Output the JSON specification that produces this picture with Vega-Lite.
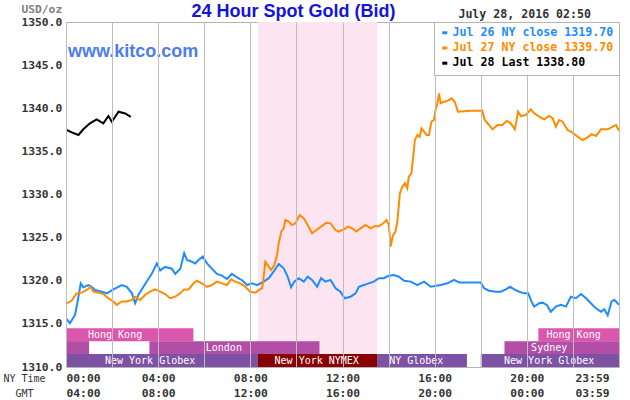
{
  "$schema": "https://vega.github.io/schema/vega-lite/v6.json",
  "width": 553,
  "height": 345,
  "autosize": {"type": "none"},
  "padding": {"left": 66, "top": 22, "right": 11, "bottom": 33},
  "background": "white",
  "config": {"view": {"stroke": "#b4b4b4"}},
  "datasets": {
    "sessions": [
      {"market": "Hong Kong", "start": 0, "end": 5.53, "lane": 2, "laneTop": 3, "laneMid": 2.5, "label": "Hong Kong", "labelAt": 2.13},
      {"market": "Hong Kong", "start": 20.5, "end": 24, "lane": 2, "laneTop": 3, "laneMid": 2.5, "label": "Hong Kong", "labelAt": 22.03},
      {"market": "London", "start": 0, "end": 1.0, "lane": 1, "laneTop": 2, "laneMid": 1.5, "label": "", "labelAt": 0.5},
      {"market": "London", "start": 3.62, "end": 11.0, "lane": 1, "laneTop": 2, "laneMid": 1.5, "label": "London", "labelAt": 6.85},
      {"market": "London", "start": 19.03, "end": 24, "lane": 1, "laneTop": 2, "laneMid": 1.5, "label": "Sydney", "labelAt": 20.97},
      {"market": "Globex", "start": 0, "end": 8.33, "lane": 0, "laneTop": 1, "laneMid": 0.5, "label": "New York Globex", "labelAt": 3.65},
      {"market": "NYMEX", "start": 8.33, "end": 13.5, "lane": 0, "laneTop": 1, "laneMid": 0.5, "label": "New York NYMEX", "labelAt": 10.88},
      {"market": "Globex", "start": 13.5, "end": 17.4, "lane": 0, "laneTop": 1, "laneMid": 0.5, "label": "NY Globex", "labelAt": 15.2},
      {"market": "Globex", "start": 18.0, "end": 24, "lane": 0, "laneTop": 1, "laneMid": 0.5, "label": "New York Globex", "labelAt": 20.97}
    ],
    "prices": [
      {"s": "Jul 26 NY close 1319.70", "h": 0.03, "v": 1315.57},
      {"s": "Jul 26 NY close 1319.70", "h": 0.17, "v": 1315.07},
      {"s": "Jul 26 NY close 1319.70", "h": 0.39, "v": 1316.03},
      {"s": "Jul 26 NY close 1319.70", "h": 0.49, "v": 1317.39},
      {"s": "Jul 26 NY close 1319.70", "h": 0.64, "v": 1319.7},
      {"s": "Jul 26 NY close 1319.70", "h": 0.75, "v": 1319.24},
      {"s": "Jul 26 NY close 1319.70", "h": 0.97, "v": 1319.5},
      {"s": "Jul 26 NY close 1319.70", "h": 1.12, "v": 1319.3},
      {"s": "Jul 26 NY close 1319.70", "h": 1.26, "v": 1318.93},
      {"s": "Jul 26 NY close 1319.70", "h": 1.55, "v": 1318.73},
      {"s": "Jul 26 NY close 1319.70", "h": 1.77, "v": 1318.54},
      {"s": "Jul 26 NY close 1319.70", "h": 2.06, "v": 1319.0},
      {"s": "Jul 26 NY close 1319.70", "h": 2.42, "v": 1319.5},
      {"s": "Jul 26 NY close 1319.70", "h": 2.64, "v": 1319.3},
      {"s": "Jul 26 NY close 1319.70", "h": 2.86, "v": 1318.54},
      {"s": "Jul 26 NY close 1319.70", "h": 3.0, "v": 1317.39},
      {"s": "Jul 26 NY close 1319.70", "h": 3.14, "v": 1318.35},
      {"s": "Jul 26 NY close 1319.70", "h": 3.36, "v": 1319.3},
      {"s": "Jul 26 NY close 1319.70", "h": 3.54, "v": 1320.06},
      {"s": "Jul 26 NY close 1319.70", "h": 3.72, "v": 1320.8},
      {"s": "Jul 26 NY close 1319.70", "h": 3.94, "v": 1322.0},
      {"s": "Jul 26 NY close 1319.70", "h": 4.09, "v": 1321.2},
      {"s": "Jul 26 NY close 1319.70", "h": 4.3, "v": 1321.6},
      {"s": "Jul 26 NY close 1319.70", "h": 4.59, "v": 1321.4},
      {"s": "Jul 26 NY close 1319.70", "h": 4.74, "v": 1320.8},
      {"s": "Jul 26 NY close 1319.70", "h": 4.96, "v": 1321.4},
      {"s": "Jul 26 NY close 1319.70", "h": 5.13, "v": 1323.2},
      {"s": "Jul 26 NY close 1319.70", "h": 5.25, "v": 1322.4},
      {"s": "Jul 26 NY close 1319.70", "h": 5.47, "v": 1322.2},
      {"s": "Jul 26 NY close 1319.70", "h": 5.61, "v": 1322.0},
      {"s": "Jul 26 NY close 1319.70", "h": 5.75, "v": 1322.4},
      {"s": "Jul 26 NY close 1319.70", "h": 5.94, "v": 1322.8},
      {"s": "Jul 26 NY close 1319.70", "h": 6.12, "v": 1322.0},
      {"s": "Jul 26 NY close 1319.70", "h": 6.33, "v": 1321.4},
      {"s": "Jul 26 NY close 1319.70", "h": 6.55, "v": 1320.8},
      {"s": "Jul 26 NY close 1319.70", "h": 6.77, "v": 1320.6},
      {"s": "Jul 26 NY close 1319.70", "h": 6.99, "v": 1320.2},
      {"s": "Jul 26 NY close 1319.70", "h": 7.2, "v": 1320.8},
      {"s": "Jul 26 NY close 1319.70", "h": 7.42, "v": 1320.4},
      {"s": "Jul 26 NY close 1319.70", "h": 7.64, "v": 1320.06},
      {"s": "Jul 26 NY close 1319.70", "h": 7.86, "v": 1319.5},
      {"s": "Jul 26 NY close 1319.70", "h": 8.07, "v": 1319.7},
      {"s": "Jul 26 NY close 1319.70", "h": 8.29, "v": 1319.5},
      {"s": "Jul 26 NY close 1319.70", "h": 8.58, "v": 1319.9},
      {"s": "Jul 26 NY close 1319.70", "h": 8.8, "v": 1320.3},
      {"s": "Jul 26 NY close 1319.70", "h": 9.01, "v": 1321.05},
      {"s": "Jul 26 NY close 1319.70", "h": 9.23, "v": 1321.94},
      {"s": "Jul 26 NY close 1319.70", "h": 9.45, "v": 1321.44},
      {"s": "Jul 26 NY close 1319.70", "h": 9.62, "v": 1320.47},
      {"s": "Jul 26 NY close 1319.70", "h": 9.77, "v": 1319.24},
      {"s": "Jul 26 NY close 1319.70", "h": 9.91, "v": 1319.9},
      {"s": "Jul 26 NY close 1319.70", "h": 10.1, "v": 1320.3},
      {"s": "Jul 26 NY close 1319.70", "h": 10.32, "v": 1319.9},
      {"s": "Jul 26 NY close 1319.70", "h": 10.49, "v": 1320.47},
      {"s": "Jul 26 NY close 1319.70", "h": 10.68, "v": 1320.1},
      {"s": "Jul 26 NY close 1319.70", "h": 10.9, "v": 1319.3},
      {"s": "Jul 26 NY close 1319.70", "h": 11.07, "v": 1320.3},
      {"s": "Jul 26 NY close 1319.70", "h": 11.26, "v": 1319.9},
      {"s": "Jul 26 NY close 1319.70", "h": 11.48, "v": 1320.1},
      {"s": "Jul 26 NY close 1319.70", "h": 11.7, "v": 1319.13},
      {"s": "Jul 26 NY close 1319.70", "h": 11.91, "v": 1318.73},
      {"s": "Jul 26 NY close 1319.70", "h": 12.09, "v": 1317.97},
      {"s": "Jul 26 NY close 1319.70", "h": 12.35, "v": 1318.15},
      {"s": "Jul 26 NY close 1319.70", "h": 12.57, "v": 1318.54},
      {"s": "Jul 26 NY close 1319.70", "h": 12.71, "v": 1319.3},
      {"s": "Jul 26 NY close 1319.70", "h": 12.93, "v": 1319.5},
      {"s": "Jul 26 NY close 1319.70", "h": 13.14, "v": 1319.7},
      {"s": "Jul 26 NY close 1319.70", "h": 13.36, "v": 1319.9},
      {"s": "Jul 26 NY close 1319.70", "h": 13.58, "v": 1320.3},
      {"s": "Jul 26 NY close 1319.70", "h": 13.8, "v": 1320.3},
      {"s": "Jul 26 NY close 1319.70", "h": 13.97, "v": 1320.55},
      {"s": "Jul 26 NY close 1319.70", "h": 14.23, "v": 1320.67},
      {"s": "Jul 26 NY close 1319.70", "h": 14.45, "v": 1320.47},
      {"s": "Jul 26 NY close 1319.70", "h": 14.67, "v": 1320.0},
      {"s": "Jul 26 NY close 1319.70", "h": 14.96, "v": 1319.9},
      {"s": "Jul 26 NY close 1319.70", "h": 15.25, "v": 1319.5},
      {"s": "Jul 26 NY close 1319.70", "h": 15.54, "v": 1319.9},
      {"s": "Jul 26 NY close 1319.70", "h": 15.83, "v": 1319.3},
      {"s": "Jul 26 NY close 1319.70", "h": 16.26, "v": 1319.5},
      {"s": "Jul 26 NY close 1319.70", "h": 16.55, "v": 1319.7},
      {"s": "Jul 26 NY close 1319.70", "h": 16.84, "v": 1320.1},
      {"s": "Jul 26 NY close 1319.70", "h": 17.06, "v": 1319.8},
      {"s": "Jul 26 NY close 1319.70", "h": 18.0, "v": 1319.8},
      {"s": "Jul 26 NY close 1319.70", "h": 18.14, "v": 1319.13},
      {"s": "Jul 26 NY close 1319.70", "h": 18.36, "v": 1318.85},
      {"s": "Jul 26 NY close 1319.70", "h": 18.65, "v": 1318.73},
      {"s": "Jul 26 NY close 1319.70", "h": 18.87, "v": 1318.73},
      {"s": "Jul 26 NY close 1319.70", "h": 19.09, "v": 1319.0},
      {"s": "Jul 26 NY close 1319.70", "h": 19.27, "v": 1319.3},
      {"s": "Jul 26 NY close 1319.70", "h": 19.45, "v": 1319.0},
      {"s": "Jul 26 NY close 1319.70", "h": 19.67, "v": 1318.73},
      {"s": "Jul 26 NY close 1319.70", "h": 19.88, "v": 1318.54},
      {"s": "Jul 26 NY close 1319.70", "h": 20.06, "v": 1318.54},
      {"s": "Jul 26 NY close 1319.70", "h": 20.2, "v": 1317.6},
      {"s": "Jul 26 NY close 1319.70", "h": 20.32, "v": 1317.0},
      {"s": "Jul 26 NY close 1319.70", "h": 20.54, "v": 1317.39},
      {"s": "Jul 26 NY close 1319.70", "h": 20.68, "v": 1317.46},
      {"s": "Jul 26 NY close 1319.70", "h": 20.87, "v": 1317.2},
      {"s": "Jul 26 NY close 1319.70", "h": 21.04, "v": 1316.4},
      {"s": "Jul 26 NY close 1319.70", "h": 21.26, "v": 1317.0},
      {"s": "Jul 26 NY close 1319.70", "h": 21.48, "v": 1317.2},
      {"s": "Jul 26 NY close 1319.70", "h": 21.7, "v": 1317.0},
      {"s": "Jul 26 NY close 1319.70", "h": 21.91, "v": 1318.15},
      {"s": "Jul 26 NY close 1319.70", "h": 22.13, "v": 1317.97},
      {"s": "Jul 26 NY close 1319.70", "h": 22.35, "v": 1318.46},
      {"s": "Jul 26 NY close 1319.70", "h": 22.57, "v": 1317.97},
      {"s": "Jul 26 NY close 1319.70", "h": 22.78, "v": 1317.39},
      {"s": "Jul 26 NY close 1319.70", "h": 23.0, "v": 1316.8},
      {"s": "Jul 26 NY close 1319.70", "h": 23.22, "v": 1316.4},
      {"s": "Jul 26 NY close 1319.70", "h": 23.36, "v": 1316.7},
      {"s": "Jul 26 NY close 1319.70", "h": 23.51, "v": 1316.0},
      {"s": "Jul 26 NY close 1319.70", "h": 23.68, "v": 1317.6},
      {"s": "Jul 26 NY close 1319.70", "h": 23.8, "v": 1317.8},
      {"s": "Jul 26 NY close 1319.70", "h": 24.0, "v": 1317.2},
      {"s": "Jul 27 NY close 1339.70", "h": 0.03, "v": 1317.39},
      {"s": "Jul 27 NY close 1339.70", "h": 0.25, "v": 1317.7},
      {"s": "Jul 27 NY close 1339.70", "h": 0.46, "v": 1318.54},
      {"s": "Jul 27 NY close 1339.70", "h": 0.68, "v": 1318.62},
      {"s": "Jul 27 NY close 1339.70", "h": 0.9, "v": 1318.93},
      {"s": "Jul 27 NY close 1339.70", "h": 1.07, "v": 1319.3},
      {"s": "Jul 27 NY close 1339.70", "h": 1.19, "v": 1318.73},
      {"s": "Jul 27 NY close 1339.70", "h": 1.41, "v": 1318.62},
      {"s": "Jul 27 NY close 1339.70", "h": 1.62, "v": 1318.46},
      {"s": "Jul 27 NY close 1339.70", "h": 1.84, "v": 1317.97},
      {"s": "Jul 27 NY close 1339.70", "h": 2.06, "v": 1317.6},
      {"s": "Jul 27 NY close 1339.70", "h": 2.2, "v": 1317.2},
      {"s": "Jul 27 NY close 1339.70", "h": 2.42, "v": 1317.6},
      {"s": "Jul 27 NY close 1339.70", "h": 2.64, "v": 1317.6},
      {"s": "Jul 27 NY close 1339.70", "h": 2.86, "v": 1317.77},
      {"s": "Jul 27 NY close 1339.70", "h": 3.0, "v": 1318.15},
      {"s": "Jul 27 NY close 1339.70", "h": 3.22, "v": 1317.77},
      {"s": "Jul 27 NY close 1339.70", "h": 3.43, "v": 1318.35},
      {"s": "Jul 27 NY close 1339.70", "h": 3.65, "v": 1318.73},
      {"s": "Jul 27 NY close 1339.70", "h": 3.87, "v": 1319.0},
      {"s": "Jul 27 NY close 1339.70", "h": 4.09, "v": 1318.73},
      {"s": "Jul 27 NY close 1339.70", "h": 4.3, "v": 1318.46},
      {"s": "Jul 27 NY close 1339.70", "h": 4.52, "v": 1317.97},
      {"s": "Jul 27 NY close 1339.70", "h": 4.74, "v": 1318.15},
      {"s": "Jul 27 NY close 1339.70", "h": 4.96, "v": 1318.54},
      {"s": "Jul 27 NY close 1339.70", "h": 5.13, "v": 1319.0},
      {"s": "Jul 27 NY close 1339.70", "h": 5.32, "v": 1319.0},
      {"s": "Jul 27 NY close 1339.70", "h": 5.54, "v": 1319.7},
      {"s": "Jul 27 NY close 1339.70", "h": 5.68, "v": 1320.0},
      {"s": "Jul 27 NY close 1339.70", "h": 5.9, "v": 1319.7},
      {"s": "Jul 27 NY close 1339.70", "h": 6.12, "v": 1319.3},
      {"s": "Jul 27 NY close 1339.70", "h": 6.33, "v": 1319.5},
      {"s": "Jul 27 NY close 1339.70", "h": 6.55, "v": 1319.9},
      {"s": "Jul 27 NY close 1339.70", "h": 6.77, "v": 1319.7},
      {"s": "Jul 27 NY close 1339.70", "h": 6.99, "v": 1319.5},
      {"s": "Jul 27 NY close 1339.70", "h": 7.16, "v": 1320.17},
      {"s": "Jul 27 NY close 1339.70", "h": 7.35, "v": 1319.9},
      {"s": "Jul 27 NY close 1339.70", "h": 7.57, "v": 1319.7},
      {"s": "Jul 27 NY close 1339.70", "h": 7.78, "v": 1319.3},
      {"s": "Jul 27 NY close 1339.70", "h": 8.0, "v": 1318.73},
      {"s": "Jul 27 NY close 1339.70", "h": 8.22, "v": 1318.62},
      {"s": "Jul 27 NY close 1339.70", "h": 8.41, "v": 1319.0},
      {"s": "Jul 27 NY close 1339.70", "h": 8.51, "v": 1319.13},
      {"s": "Jul 27 NY close 1339.70", "h": 8.58, "v": 1320.47},
      {"s": "Jul 27 NY close 1339.70", "h": 8.65, "v": 1322.2},
      {"s": "Jul 27 NY close 1339.70", "h": 8.8, "v": 1321.63},
      {"s": "Jul 27 NY close 1339.70", "h": 8.9, "v": 1321.25},
      {"s": "Jul 27 NY close 1339.70", "h": 9.04, "v": 1321.8},
      {"s": "Jul 27 NY close 1339.70", "h": 9.16, "v": 1322.97},
      {"s": "Jul 27 NY close 1339.70", "h": 9.23, "v": 1324.3},
      {"s": "Jul 27 NY close 1339.70", "h": 9.34, "v": 1325.7},
      {"s": "Jul 27 NY close 1339.70", "h": 9.45, "v": 1326.07},
      {"s": "Jul 27 NY close 1339.70", "h": 9.52, "v": 1327.04},
      {"s": "Jul 27 NY close 1339.70", "h": 9.67, "v": 1326.85},
      {"s": "Jul 27 NY close 1339.70", "h": 9.81, "v": 1326.47},
      {"s": "Jul 27 NY close 1339.70", "h": 9.96, "v": 1326.66},
      {"s": "Jul 27 NY close 1339.70", "h": 10.14, "v": 1327.62},
      {"s": "Jul 27 NY close 1339.70", "h": 10.32, "v": 1327.24},
      {"s": "Jul 27 NY close 1339.70", "h": 10.49, "v": 1326.47},
      {"s": "Jul 27 NY close 1339.70", "h": 10.68, "v": 1325.5},
      {"s": "Jul 27 NY close 1339.70", "h": 10.87, "v": 1325.88},
      {"s": "Jul 27 NY close 1339.70", "h": 11.07, "v": 1326.27},
      {"s": "Jul 27 NY close 1339.70", "h": 11.3, "v": 1326.73},
      {"s": "Jul 27 NY close 1339.70", "h": 11.48, "v": 1326.66},
      {"s": "Jul 27 NY close 1339.70", "h": 11.7, "v": 1325.88},
      {"s": "Jul 27 NY close 1339.70", "h": 11.84, "v": 1325.7},
      {"s": "Jul 27 NY close 1339.70", "h": 12.06, "v": 1325.97},
      {"s": "Jul 27 NY close 1339.70", "h": 12.23, "v": 1326.27},
      {"s": "Jul 27 NY close 1339.70", "h": 12.42, "v": 1326.07},
      {"s": "Jul 27 NY close 1339.70", "h": 12.61, "v": 1325.7},
      {"s": "Jul 27 NY close 1339.70", "h": 12.78, "v": 1326.07},
      {"s": "Jul 27 NY close 1339.70", "h": 13.0, "v": 1326.47},
      {"s": "Jul 27 NY close 1339.70", "h": 13.22, "v": 1326.07},
      {"s": "Jul 27 NY close 1339.70", "h": 13.39, "v": 1326.33},
      {"s": "Jul 27 NY close 1339.70", "h": 13.58, "v": 1326.33},
      {"s": "Jul 27 NY close 1339.70", "h": 13.77, "v": 1326.66},
      {"s": "Jul 27 NY close 1339.70", "h": 13.91, "v": 1327.04},
      {"s": "Jul 27 NY close 1339.70", "h": 14.01, "v": 1326.47},
      {"s": "Jul 27 NY close 1339.70", "h": 14.09, "v": 1323.95},
      {"s": "Jul 27 NY close 1339.70", "h": 14.16, "v": 1324.9},
      {"s": "Jul 27 NY close 1339.70", "h": 14.2, "v": 1325.3},
      {"s": "Jul 27 NY close 1339.70", "h": 14.3, "v": 1325.7},
      {"s": "Jul 27 NY close 1339.70", "h": 14.38, "v": 1326.85},
      {"s": "Jul 27 NY close 1339.70", "h": 14.49, "v": 1330.14},
      {"s": "Jul 27 NY close 1339.70", "h": 14.6, "v": 1330.9},
      {"s": "Jul 27 NY close 1339.70", "h": 14.71, "v": 1331.3},
      {"s": "Jul 27 NY close 1339.70", "h": 14.81, "v": 1330.72},
      {"s": "Jul 27 NY close 1339.70", "h": 14.88, "v": 1332.07},
      {"s": "Jul 27 NY close 1339.70", "h": 14.99, "v": 1332.46},
      {"s": "Jul 27 NY close 1339.70", "h": 15.07, "v": 1334.4},
      {"s": "Jul 27 NY close 1339.70", "h": 15.14, "v": 1336.3},
      {"s": "Jul 27 NY close 1339.70", "h": 15.25, "v": 1336.9},
      {"s": "Jul 27 NY close 1339.70", "h": 15.35, "v": 1336.7},
      {"s": "Jul 27 NY close 1339.70", "h": 15.43, "v": 1337.67},
      {"s": "Jul 27 NY close 1339.70", "h": 15.54, "v": 1337.3},
      {"s": "Jul 27 NY close 1339.70", "h": 15.65, "v": 1336.9},
      {"s": "Jul 27 NY close 1339.70", "h": 15.75, "v": 1336.9},
      {"s": "Jul 27 NY close 1339.70", "h": 15.86, "v": 1338.44},
      {"s": "Jul 27 NY close 1339.70", "h": 15.97, "v": 1338.64},
      {"s": "Jul 27 NY close 1339.70", "h": 16.04, "v": 1339.8},
      {"s": "Jul 27 NY close 1339.70", "h": 16.12, "v": 1340.57},
      {"s": "Jul 27 NY close 1339.70", "h": 16.19, "v": 1341.73},
      {"s": "Jul 27 NY close 1339.70", "h": 16.26, "v": 1340.57},
      {"s": "Jul 27 NY close 1339.70", "h": 16.41, "v": 1340.76},
      {"s": "Jul 27 NY close 1339.70", "h": 16.58, "v": 1340.88},
      {"s": "Jul 27 NY close 1339.70", "h": 16.73, "v": 1341.15},
      {"s": "Jul 27 NY close 1339.70", "h": 16.87, "v": 1340.76},
      {"s": "Jul 27 NY close 1339.70", "h": 17.01, "v": 1339.6},
      {"s": "Jul 27 NY close 1339.70", "h": 17.57, "v": 1339.7},
      {"s": "Jul 27 NY close 1339.70", "h": 18.07, "v": 1339.7},
      {"s": "Jul 27 NY close 1339.70", "h": 18.17, "v": 1338.64},
      {"s": "Jul 27 NY close 1339.70", "h": 18.36, "v": 1338.06},
      {"s": "Jul 27 NY close 1339.70", "h": 18.51, "v": 1337.56},
      {"s": "Jul 27 NY close 1339.70", "h": 18.73, "v": 1338.06},
      {"s": "Jul 27 NY close 1339.70", "h": 18.94, "v": 1338.06},
      {"s": "Jul 27 NY close 1339.70", "h": 19.13, "v": 1338.56},
      {"s": "Jul 27 NY close 1339.70", "h": 19.3, "v": 1338.25},
      {"s": "Jul 27 NY close 1339.70", "h": 19.48, "v": 1337.56},
      {"s": "Jul 27 NY close 1339.70", "h": 19.62, "v": 1339.6},
      {"s": "Jul 27 NY close 1339.70", "h": 19.74, "v": 1339.1},
      {"s": "Jul 27 NY close 1339.70", "h": 19.96, "v": 1339.22},
      {"s": "Jul 27 NY close 1339.70", "h": 20.17, "v": 1339.88},
      {"s": "Jul 27 NY close 1339.70", "h": 20.32, "v": 1339.41},
      {"s": "Jul 27 NY close 1339.70", "h": 20.54, "v": 1339.02},
      {"s": "Jul 27 NY close 1339.70", "h": 20.75, "v": 1338.72},
      {"s": "Jul 27 NY close 1339.70", "h": 20.97, "v": 1339.1},
      {"s": "Jul 27 NY close 1339.70", "h": 21.12, "v": 1338.84},
      {"s": "Jul 27 NY close 1339.70", "h": 21.26, "v": 1337.87},
      {"s": "Jul 27 NY close 1339.70", "h": 21.4, "v": 1338.64},
      {"s": "Jul 27 NY close 1339.70", "h": 21.55, "v": 1338.44},
      {"s": "Jul 27 NY close 1339.70", "h": 21.77, "v": 1337.48},
      {"s": "Jul 27 NY close 1339.70", "h": 21.99, "v": 1337.17},
      {"s": "Jul 27 NY close 1339.70", "h": 22.2, "v": 1336.7},
      {"s": "Jul 27 NY close 1339.70", "h": 22.42, "v": 1336.32},
      {"s": "Jul 27 NY close 1339.70", "h": 22.64, "v": 1336.63},
      {"s": "Jul 27 NY close 1339.70", "h": 22.81, "v": 1337.0},
      {"s": "Jul 27 NY close 1339.70", "h": 23.0, "v": 1336.78},
      {"s": "Jul 27 NY close 1339.70", "h": 23.22, "v": 1337.56},
      {"s": "Jul 27 NY close 1339.70", "h": 23.51, "v": 1337.56},
      {"s": "Jul 27 NY close 1339.70", "h": 23.73, "v": 1337.87},
      {"s": "Jul 27 NY close 1339.70", "h": 23.87, "v": 1338.06},
      {"s": "Jul 27 NY close 1339.70", "h": 24.0, "v": 1337.4},
      {"s": "Jul 28 Last 1338.80", "h": 0.03, "v": 1337.48},
      {"s": "Jul 28 Last 1338.80", "h": 0.25, "v": 1337.2},
      {"s": "Jul 28 Last 1338.80", "h": 0.54, "v": 1336.9},
      {"s": "Jul 28 Last 1338.80", "h": 0.75, "v": 1337.56},
      {"s": "Jul 28 Last 1338.80", "h": 1.04, "v": 1338.25},
      {"s": "Jul 28 Last 1338.80", "h": 1.33, "v": 1338.7},
      {"s": "Jul 28 Last 1338.80", "h": 1.62, "v": 1338.25},
      {"s": "Jul 28 Last 1338.80", "h": 1.84, "v": 1339.1},
      {"s": "Jul 28 Last 1338.80", "h": 1.99, "v": 1338.44},
      {"s": "Jul 28 Last 1338.80", "h": 2.28, "v": 1339.6},
      {"s": "Jul 28 Last 1338.80", "h": 2.57, "v": 1339.4},
      {"s": "Jul 28 Last 1338.80", "h": 2.81, "v": 1339.0}
    ]
  },
  "layer": [
    {
      "data": {"name": "sessions"},
      "layer": [
        {
          "transform": [{"filter": "datum.market == 'NYMEX'"}],
          "mark": {"type": "rect", "color": "#fce4f0"},
          "encoding": {
            "x": {"field": "start", "type": "quantitative", "scale": {"domain": [0, 24], "nice": false, "zero": false}},
            "x2": {"field": "end"}
          }
        },
        {
          "mark": {"type": "rect"},
          "encoding": {
            "x": {"field": "start", "type": "quantitative", "scale": {"domain": [0, 24], "nice": false, "zero": false}},
            "x2": {"field": "end"},
            "y": {"field": "lane", "type": "quantitative", "scale": {"domain": [0, 26.6667], "nice": false, "zero": false}, "axis": null},
            "y2": {"field": "laneTop"},
            "fill": {"field": "market", "type": "nominal", "scale": {"domain": ["Hong Kong", "London", "Globex", "NYMEX"], "range": ["#dc56ab", "#b24ea6", "#7d52a4", "#880000"]}, "legend": null}
          }
        },
        {
          "mark": {"type": "text", "font": "DejaVu Sans Mono", "fontSize": 10, "color": "white", "align": "center", "baseline": "middle"},
          "encoding": {
            "x": {"field": "labelAt", "type": "quantitative", "scale": {"domain": [0, 24], "nice": false, "zero": false}},
            "y": {"field": "laneMid", "type": "quantitative", "scale": {"domain": [0, 26.6667], "nice": false, "zero": false}, "axis": null},
            "text": {"field": "label"}
          }
        }
      ]
    },
    {
      "layer": [
        {
          "data": {"name": "prices"},
          "mark": {"type": "line", "strokeWidth": 2},
          "encoding": {
            "x": {
              "field": "h", "type": "quantitative",
              "scale": {"domain": [0, 24], "nice": false, "zero": false},
              "axis": {
                "values": [0, 2, 4, 6, 8, 10, 12, 14, 16, 18, 20, 22, 24],
                "labelExpr": "datum.value % 4 != 0 ? '' : (datum.value == 24 ? ['23:59', '03:59'] : [format(datum.value, '02d') + ':00', format((datum.value + 4) % 24, '02d') + ':00'])",
                "title": ["NY Time", "GMT"],
                "titleX": -42, "titleY": 6, "titleAlign": "center", "titleBaseline": "top", "titleAngle": 0,
                "titleFont": "DejaVu Sans Mono", "titleFontSize": 10, "titleFontWeight": "normal", "titleColor": "#333333", "titleLineHeight": 15.7,
                "labelFont": "DejaVu Sans Mono", "labelFontSize": 11.3, "labelFontWeight": "bold", "labelColor": "#333333",
                "labelLineHeight": 15.7, "labelBaseline": "top", "labelPadding": 5, "labelOverlap": false, "labelBound": false,
                "labelOffset": {"condition": {"test": "datum.value == 24", "value": -10}, "value": 0},
                "ticks": false, "domain": false, "gridColor": "#bdbdbd", "gridOpacity": 1, "zindex": 1
              }
            },
            "y": {
              "field": "v", "type": "quantitative",
              "scale": {"domain": [1310, 1350], "nice": false, "zero": false},
              "axis": {
                "orient": "left",
                "values": [1310, 1315, 1320, 1325, 1330, 1335, 1340, 1345, 1350],
                "format": ".1f",
                "title": "USD/oz", "titleAngle": 0, "titleAlign": "right", "titleBaseline": "alphabetic", "titleX": -4.3, "titleY": -9.7,
                "titleFont": "DejaVu Sans Mono", "titleFontSize": 11.3, "titleFontWeight": "bold", "titleColor": "#808080",
                "labelFont": "DejaVu Sans Mono", "labelFontSize": 11.3, "labelFontWeight": "bold", "labelColor": "#333333", "labelPadding": 4.3,
                "ticks": false, "domain": false, "gridColor": "#bdbdbd", "gridOpacity": 1, "zindex": 1
              }
            },
            "color": {
              "field": "s", "type": "nominal",
              "scale": {"domain": ["Jul 26 NY close 1319.70", "Jul 27 NY close 1339.70", "Jul 28 Last 1338.80"], "range": ["#1e8cff", "#ff8c00", "#000000"]},
              "legend": {
                "title": null, "orient": "none", "legendX": 368, "legendY": 0, "direction": "vertical",
                "fillColor": "white", "strokeColor": "#b4b4b4", "padding": 5,
                "symbolType": "stroke", "symbolStrokeWidth": 3, "symbolSize": 25,
                "labelFont": "DejaVu Sans Mono", "labelFontSize": 11.6, "labelFontWeight": "bold", "labelOffset": 2, "labelLimit": 300,
                "rowPadding": 2.2, "zindex": 2,
                "encode": {"labels": {"update": {"fill": {"scale": "color", "field": "value"}}}}
              }
            }
          }
        },
        {
          "data": {"values": [{}]},
          "mark": {"type": "text", "text": "24 Hour Spot Gold (Bid)", "font": "Liberation Sans", "fontSize": 18, "fontWeight": "bold", "color": "#1414d8", "align": "center", "baseline": "alphabetic"},
          "encoding": {
            "x": {"datum": 9.87, "type": "quantitative"},
            "y": {"datum": 1350.55, "type": "quantitative"}
          }
        },
        {
          "data": {"values": [{}]},
          "mark": {"type": "text", "text": "www.kitco.com", "font": "Liberation Sans", "fontSize": 18, "fontWeight": "bold", "color": "#4d7cf0", "align": "left", "baseline": "alphabetic"},
          "encoding": {
            "x": {"datum": 0.087, "type": "quantitative"},
            "y": {"datum": 1345.95, "type": "quantitative"}
          }
        },
        {
          "data": {"values": [{}]},
          "mark": {"type": "text", "text": "July 28, 2016 02:50", "font": "DejaVu Sans Mono", "fontSize": 11.6, "fontWeight": "bold", "color": "#333333", "align": "left", "baseline": "alphabetic"},
          "encoding": {
            "x": {"datum": 17.03, "type": "quantitative"},
            "y": {"datum": 1350.43, "type": "quantitative"}
          }
        }
      ]
    }
  ],
  "resolve": {"scale": {"y": "independent"}}
}
